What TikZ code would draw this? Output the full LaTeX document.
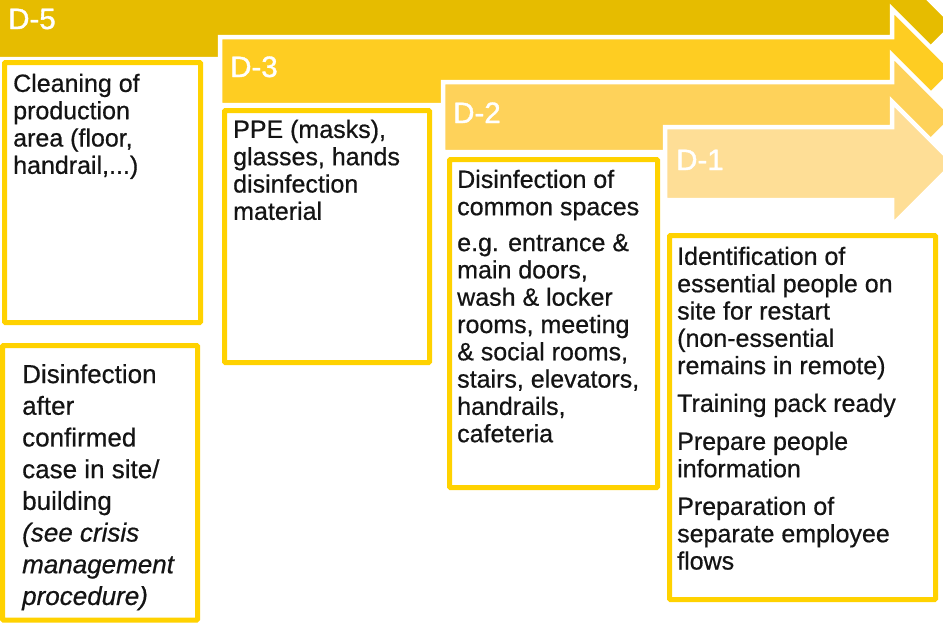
\documentclass[tikz,border=0pt]{standalone}
\usepackage{fontspec}
\setmainfont{Liberation Sans}[FakeBold=0.6]
\newfontfamily\labelfont{Liberation Sans}[FakeBold=1.2]
\definecolor{dfive}{RGB}{230,188,0}
\definecolor{dthree}{RGB}{254,205,34}
\definecolor{dtwo}{RGB}{254,210,90}
\definecolor{done}{RGB}{254,222,150}
\definecolor{cardyellow}{RGB}{255,210,0}
\definecolor{textblack}{RGB}{20,20,20}
\begin{document}
\begin{tikzpicture}[x=1pt,y=-1pt,
  band/.style={draw=white,line width=4.5pt,line join=miter},
  lbl/.style={anchor=base west,inner sep=0pt,text=white,font=\labelfont\fontsize{29.5}{32}\selectfont},
  card/.style={draw=cardyellow,line width=5pt,rounded corners=1pt},
  txt/.style={anchor=north west,inner sep=0pt,align=left,text=textblack,font=\fontsize{25}{27.3}\selectfont},
  txtbig/.style={txt,font=\fontsize{26}{31.7}\selectfont}]
\useasboundingbox (0,0) rectangle (943,624);
\clip (0,0) rectangle (943,624);
\fill[white] (0,0) rectangle (943,624);

% day bands (arrows)
\path[band,fill=dfive] (-10,-10) -- (892,-10) -- (892,-37.5) -- (954,24.5) -- (892,86.5) -- (892,59) -- (-10,59) -- cycle;
\path[band,fill=dthree] (220,37) -- (892,37) -- (892,9) -- (954,71) -- (892,133) -- (892,105) -- (220,105) -- cycle;
\path[band,fill=dtwo] (443,82) -- (892,82) -- (892,55) -- (954,117) -- (892,179) -- (892,152) -- (443,152) -- cycle;
\path[band,fill=done] (665,127) -- (892,127) -- (892,101.5) -- (954,163.5) -- (892,225.5) -- (892,200) -- (665,200) -- cycle;

\node[lbl] (l5) at (8,29) {D-5};
\node[lbl] (l3) at (230,77) {D-3};
\node[lbl] (l2) at (453,123) {D-2};
\node[lbl] (l1) at (676,170) {D-1};

% cards
\draw[card] (4.5,62.5) rectangle (200.5,322.5);
\draw[card] (2.5,345.5) rectangle (197.5,620);
\draw[card] (224.5,110.5) rectangle (429.5,362.5);
\draw[card] (449.5,159.5) rectangle (657.5,487.5);
\draw[card] (669.5,235.5) rectangle (935.5,599.5);

% texts
\node[txt] (t1) at (13,73.6) {Cleaning of\\production\\area (floor,\\handrail,...)};
\node[txtbig] (t1b) at (22,364) {Disinfection\\after\\confirmed\\case in site/\\building\\\textit{(see crisis}\\\textit{management}\\\textit{procedure)}};
\node[txt] (t2) at (233,119.6) {PPE (masks),\\glasses, hands\\disinfection\\material};
\node[txt] (t3a) at (457,169.6) {Disinfection of\\common spaces};
\node[txt] (t3b) at (457,233.6) {e.g. entrance \&\\main doors,\\wash \& locker\\rooms, meeting\\\& social rooms,\\stairs, elevators,\\handrails,\\cafeteria};
\node[txt] (t4a) at (677,246.6) {Identification of\\essential people on\\site for restart\\(non-essential\\remains in remote)};
\node[txt] (t4b) at (677,393.6) {Training pack ready};
\node[txt] (t4c) at (677,431.6) {Prepare people\\information};
\node[txt] (t4d) at (677,496.6) {Preparation of\\separate employee\\flows};
\end{tikzpicture}
\end{document}
